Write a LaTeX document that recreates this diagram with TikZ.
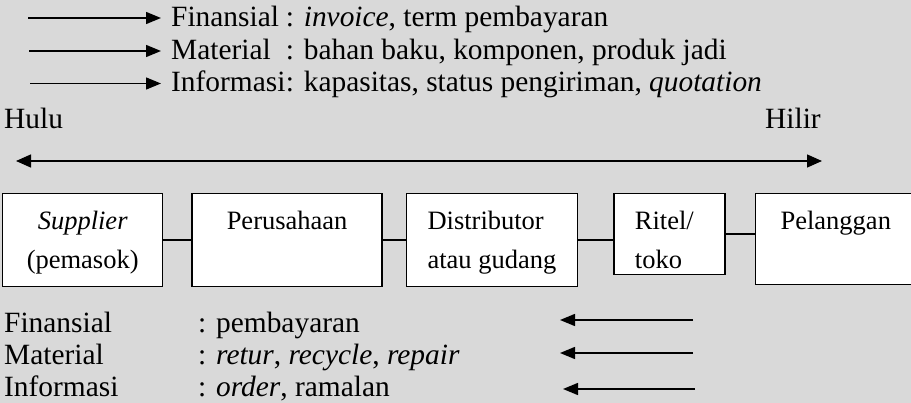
\documentclass[tikz,border=0pt]{standalone}
\usepackage{fontspec}
\setmainfont{Liberation Serif}
\usetikzlibrary{positioning,arrows.meta}
\definecolor{sheet}{HTML}{D9D9D9}
\newcommand{\flowname}[1]{\makebox[3.9em][l]{#1}}
\newcommand{\backname}[1]{\makebox[194pt][l]{#1}}

\begin{document}
\begin{tikzpicture}[
		x=1pt, y=-1pt,
		every node/.style = {inner sep=0pt, font=\fontsize{29.4}{32}\selectfont},
		txt/.style = {anchor=base west},
		unit/.style = {draw, fill=white, line width=1.4pt, anchor=north west,
			font=\fontsize{26.5}{39}\selectfont},
		link/.style = {line width=1.4pt},
		flow/.style = {line width=1.4pt, -{Triangle[length=15pt, width=12pt]}},
		both/.style = {line width=1.4pt, {Triangle[length=15pt, width=13pt]}-{Triangle[length=15pt, width=13pt]}}
	]
	\fill[sheet] (0,0) rectangle (911,403);
	\useasboundingbox (0,0) rectangle (911,403);

	% Forward flows.
	\node[txt] (fin) at (171,27) {\flowname{Finansial}: \textit{invoice}, term pembayaran};
	\node[txt] (mat) at (171,59.5) {\flowname{Material}: bahan baku, komponen, produk jadi};
	\node[txt] (inf) at (171,92) {\flowname{Informasi}: kapasitas, status pengiriman, \textit{quotation}};
	\coordinate (fin-tail) at (28,18);
	\coordinate (mat-tail) at (29,51);
	\coordinate (inf-tail) at (30,83.5);

	\node[txt] (hulu) at (4,129) {Hulu};
	\node[txt] (hilir) at (765,129) {Hilir};
	\coordinate (up) at (16,161);
	\coordinate (down) at (822,161);

	% Chain.
	\node[unit] (sup) at (2,193) {\parbox[c][93pt][t]{160pt}{\centering\rule{0pt}{36pt}\textit{Supplier}\\(pemasok)}};
	\node[unit, right=28pt of sup.north east, anchor=north west] (per) {\parbox[c][93pt][t]{190pt}{\centering\rule{0pt}{36pt}Perusahaan}};
	\node[unit, right=23pt of per.north east, anchor=north west] (dis) {\parbox[c][93pt][t]{171pt}{\leftskip=21pt\rule{0pt}{36pt}Distributor\\atau gudang}};
	\node[unit, right=35pt of dis.north east, anchor=north west] (rit) {\parbox[c][81pt][t]{111pt}{\leftskip=21pt\rule{0pt}{36pt}Ritel/\\toko}};
	\node[unit, right=29pt of rit.north east, anchor=north west] (pel) {\parbox[c][91pt][t]{161pt}{\centering\rule{0pt}{36pt}Pelanggan}};

	% Backward flows.
	\node[txt] (bfin) at (4,333) {\backname{Finansial}: pembayaran};
	\node[txt] (bmat) at (4,365) {\backname{Material}: \textit{retur}, \textit{recycle}, \textit{repair}};
	\node[txt] (binf) at (4,397) {\backname{Informasi}: \textit{order}, ramalan};
	\coordinate (bfin-tail) at (693,320);
	\coordinate (bfin-head) at (560,320);
	\coordinate (bmat-tail) at (693,353);
	\coordinate (bmat-head) at (560,353);
	\coordinate (binf-tail) at (695,389);
	\coordinate (binf-head) at (563,389);

	\draw[flow, shorten >=10pt] (fin-tail) to (fin-tail -| fin.west);
	\draw[flow, shorten >=10pt] (mat-tail) to (mat-tail -| mat.west);
	\draw[flow, shorten >=10pt] (inf-tail) to (inf-tail -| inf.west);
	\draw[both] (up) to (down);
	\draw[link] (sup.east) to (sup.east -| per.west);
	\draw[link] (per.east) to (per.east -| dis.west);
	\draw[link] (dis.east) to (dis.east -| rit.west);
	\draw[link] (rit.east) to (rit.east -| pel.west);
	\draw[flow] (bfin-tail) to (bfin-head);
	\draw[flow] (bmat-tail) to (bmat-head);
	\draw[flow] (binf-tail) to (binf-head);
\end{tikzpicture}
\end{document}
